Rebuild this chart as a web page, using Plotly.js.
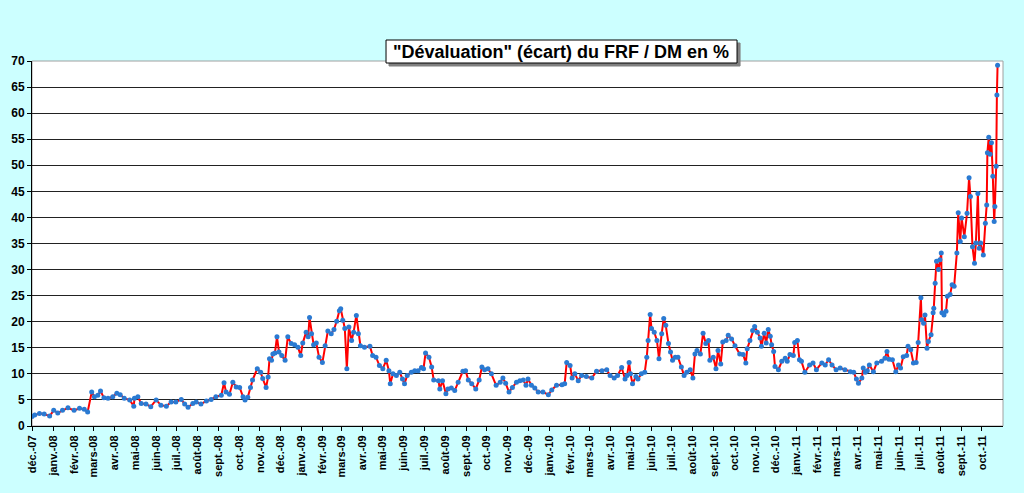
<!DOCTYPE html>
<html>
<head>
<meta charset="utf-8">
<script src="https://cdn.plot.ly/plotly-3.0.1.min.js"></script>
<style>
  html, body { margin: 0; padding: 0; background: #ccffff; }
  #graph { width: 1024px; height: 493px; }
</style>
</head>
<body>
<div id="graph"></div>
<script>
// dates des cotations
var jours = [
  '2007-12-01','2007-12-05','2007-12-12','2007-12-19','2007-12-27',
  '2008-01-02','2008-01-08','2008-01-15','2008-01-23',
  '2008-02-01','2008-02-09','2008-02-16','2008-02-21','2008-02-27',
  '2008-03-02','2008-03-07','2008-03-11','2008-03-16','2008-03-22','2008-03-29',
  '2008-04-04','2008-04-09','2008-04-15','2008-04-23','2008-04-29','2008-04-30',
  '2008-05-05','2008-05-10','2008-05-17','2008-05-24',
  '2008-06-01','2008-06-08','2008-06-16','2008-06-23','2008-06-30',
  '2008-07-08','2008-07-13','2008-07-18','2008-07-25','2008-07-30',
  '2008-08-06','2008-08-14','2008-08-21','2008-08-28',
  '2008-09-05','2008-09-09','2008-09-12','2008-09-17','2008-09-22','2008-09-27',
  '2008-10-02','2008-10-07','2008-10-10','2008-10-14','2008-10-18','2008-10-21','2008-10-28',
  '2008-11-02','2008-11-05','2008-11-10','2008-11-13','2008-11-15','2008-11-18','2008-11-20','2008-11-23','2008-11-26','2008-11-29',
  '2008-12-03','2008-12-08','2008-12-12','2008-12-17','2008-12-22','2008-12-27','2008-12-31',
  '2009-01-03','2009-01-08','2009-01-11','2009-01-13','2009-01-16','2009-01-19','2009-01-23','2009-01-27',
  '2009-02-01','2009-02-05','2009-02-09','2009-02-14','2009-02-18','2009-02-22','2009-02-26','2009-02-28',
  '2009-03-03','2009-03-06','2009-03-09','2009-03-12','2009-03-16','2009-03-19','2009-03-23','2009-03-26','2009-03-29',
  '2009-04-04','2009-04-12','2009-04-16','2009-04-21','2009-04-26',
  '2009-05-01','2009-05-06','2009-05-10','2009-05-12','2009-05-16','2009-05-21','2009-05-26','2009-05-30',
  '2009-06-02','2009-06-06','2009-06-12','2009-06-17','2009-06-22','2009-06-27','2009-06-30',
  '2009-07-03','2009-07-08','2009-07-12','2009-07-15','2009-07-22','2009-07-24','2009-07-28',
  '2009-08-02','2009-08-05','2009-08-10','2009-08-15','2009-08-20','2009-08-27','2009-08-31',
  '2009-09-04','2009-09-09','2009-09-15','2009-09-20','2009-09-24','2009-09-28',
  '2009-10-03','2009-10-08','2009-10-15','2009-10-21','2009-10-25','2009-10-29',
  '2009-11-03','2009-11-08','2009-11-14','2009-11-19','2009-11-24','2009-11-28',
  '2009-12-01','2009-12-06','2009-12-11','2009-12-16','2009-12-23','2009-12-31',
  '2010-01-05','2010-01-12','2010-01-20','2010-01-24','2010-01-27',
  '2010-02-01','2010-02-04','2010-02-08','2010-02-13','2010-02-18','2010-02-25',
  '2010-03-05','2010-03-12','2010-03-20','2010-03-27',
  '2010-04-01','2010-04-07','2010-04-12','2010-04-18','2010-04-23','2010-04-26','2010-04-29',
  '2010-05-01','2010-05-04','2010-05-09','2010-05-12','2010-05-17','2010-05-22','2010-05-25','2010-05-27','2010-05-30',
  '2010-06-01','2010-06-05','2010-06-09','2010-06-12','2010-06-16','2010-06-19','2010-06-22','2010-06-26','2010-06-29',
  '2010-07-02','2010-07-06','2010-07-10','2010-07-15','2010-07-19','2010-07-23','2010-07-28',
  '2010-08-01','2010-08-04','2010-08-07','2010-08-12','2010-08-16','2010-08-20','2010-08-24','2010-08-26','2010-08-31',
  '2010-09-04','2010-09-07','2010-09-11','2010-09-14','2010-09-19','2010-09-22','2010-09-27',
  '2010-10-02','2010-10-09','2010-10-14','2010-10-18','2010-10-20','2010-10-24','2010-10-28','2010-10-31',
  '2010-11-04','2010-11-08','2010-11-10','2010-11-14','2010-11-17','2010-11-20','2010-11-23','2010-11-25','2010-11-28','2010-11-30',
  '2010-12-05','2010-12-10','2010-12-15','2010-12-18','2010-12-22','2010-12-27','2010-12-29',
  '2011-01-02','2011-01-05','2011-01-08','2011-01-13','2011-01-20','2011-01-25','2011-01-30',
  '2011-02-07','2011-02-12','2011-02-17','2011-02-22','2011-02-28',
  '2011-03-06','2011-03-13','2011-03-21','2011-03-26','2011-03-30',
  '2011-04-02','2011-04-07','2011-04-09','2011-04-12','2011-04-15','2011-04-18','2011-04-24','2011-04-29',
  '2011-05-06','2011-05-11','2011-05-14','2011-05-17','2011-05-22','2011-05-27','2011-05-31',
  '2011-06-03','2011-06-07','2011-06-12','2011-06-14','2011-06-18','2011-06-22','2011-06-26','2011-06-29',
  '2011-07-03','2011-07-04','2011-07-07','2011-07-09','2011-07-12','2011-07-14','2011-07-18','2011-07-21','2011-07-22','2011-07-24','2011-07-26','2011-07-29','2011-07-31',
  '2011-08-02','2011-08-03','2011-08-06','2011-08-09','2011-08-11','2011-08-15','2011-08-18','2011-08-21','2011-08-25','2011-08-27','2011-08-30',
  '2011-09-01','2011-09-05','2011-09-09','2011-09-12','2011-09-14','2011-09-17','2011-09-20','2011-09-22','2011-09-25','2011-09-27','2011-09-29',
  '2011-10-03','2011-10-06','2011-10-08','2011-10-09','2011-10-11','2011-10-13','2011-10-15','2011-10-17','2011-10-19','2011-10-20','2011-10-22','2011-10-23','2011-10-24'
];

// écart FRF / DM en %
var ecart = [
  1.8, 2.1, 2.4, 2.3, 1.9,
  3.0, 2.5, 3.0, 3.5,
  3.0, 3.4, 3.2, 2.7, 6.5,
  5.6, 5.9, 6.7, 5.4, 5.3, 5.6,
  6.3, 6.0, 5.3, 5.0, 3.8, 5.3,
  5.6, 4.3, 4.2, 3.7,
  5.0, 4.0, 3.8, 4.6, 4.6,
  5.1, 4.2, 3.6, 4.3, 4.6,
  4.2, 4.8, 5.1, 5.6,
  5.9, 8.3, 6.5, 6.1, 8.4, 7.5,
  7.4, 5.6, 5.0, 5.5, 7.4, 8.8, 11.0,
  10.3, 9.1, 7.4, 9.4, 12.9, 12.6, 13.8, 14.0, 17.1, 14.2,
  13.5, 12.6, 17.1, 15.8, 15.6, 15.1, 13.5,
  15.9, 18.0, 17.1, 20.8, 17.7, 15.6, 15.9, 13.2,
  12.2, 15.4, 18.2, 17.7, 18.5, 20.1, 22.1, 22.5,
  20.3, 18.7, 11.0, 19.0, 16.4, 18.0, 21.2, 17.7, 15.4,
  15.1, 15.3, 13.5, 13.2, 11.6,
  11.0, 12.6, 10.6, 8.1, 10.0, 9.7, 10.3, 9.0,
  8.1, 9.7, 10.3, 10.6, 10.6, 11.2, 11.0,
  14.0, 13.2, 11.3, 8.8, 8.7, 7.1, 8.7,
  6.2, 7.1, 7.3, 6.8, 8.4, 10.5, 10.6,
  8.8, 8.1, 7.1, 8.8, 11.3, 10.8,
  11.0, 10.0, 7.8, 8.4, 9.2, 8.2,
  6.5, 7.4, 8.4, 8.7, 8.8, 7.8,
  9.0, 7.8, 7.3, 6.5, 6.5, 6.0,
  6.9, 7.8, 7.9, 8.1, 12.2,
  11.6, 9.2, 10.0, 8.7, 9.7, 9.5,
  9.2, 10.5, 10.6, 10.8,
  9.7, 9.2, 9.7, 11.2, 9.0, 9.7, 12.2,
  10.0, 8.1, 9.5, 9.0, 10.0, 10.3, 13.2, 16.4, 21.4,
  18.7, 18.0, 16.4, 12.9, 17.7, 20.6, 19.3, 15.8, 14.2,
  12.6, 13.2, 13.2, 11.3, 9.7, 10.3, 10.8,
  9.2, 13.8, 14.5, 13.8, 17.8, 15.8, 16.4, 12.6, 13.2,
  11.0, 14.5, 11.9, 16.1, 16.4, 17.4, 16.7,
  15.4, 13.8, 13.7, 12.1, 14.8, 16.4, 18.3, 19.1,
  18.0, 16.9, 15.3, 17.8, 15.9, 18.5, 17.2, 15.6, 14.3, 11.4,
  10.8, 12.4, 13.0, 12.4, 13.7, 13.5, 16.0,
  16.4, 12.7, 12.4, 10.3, 11.7, 12.1, 10.8,
  12.1, 11.7, 12.7, 11.7, 10.8,
  11.1, 10.8, 10.4, 10.3, 9.0,
  8.2, 9.2, 11.1, 10.3, 10.6, 11.7, 10.4, 12.1,
  12.4, 13.0, 14.3, 12.8, 12.7, 10.4, 11.7,
  11.1, 13.3, 13.5, 15.3, 14.6, 12.1, 12.2, 16.0,
  24.6, 20.4, 19.7, 21.3, 14.9, 16.2, 17.5, 21.7, 22.6, 27.4, 31.6, 30.0, 31.9,
  33.2, 21.7, 21.3, 22.0, 24.9, 25.2, 27.1, 26.8, 33.2, 40.9, 35.4,
  39.9, 36.3, 40.8, 47.6, 44.0, 34.4, 31.2, 35.1, 44.6, 34.1, 35.1,
  32.8, 38.9, 42.4, 52.4, 55.4, 52.1, 54.3, 47.9, 39.2, 42.1, 49.8, 63.5, 69.2
];

// graduations mensuelles de l'axe des dates
var moisDates = [
  '2007-12-01',
  '2008-01-01','2008-02-01','2008-03-01','2008-04-01','2008-05-01','2008-06-01',
  '2008-07-01','2008-08-01','2008-09-01','2008-10-01','2008-11-01','2008-12-01',
  '2009-01-01','2009-02-01','2009-03-01','2009-04-01','2009-05-01','2009-06-01',
  '2009-07-01','2009-08-01','2009-09-01','2009-10-01','2009-11-01','2009-12-01',
  '2010-01-01','2010-02-01','2010-03-01','2010-04-01','2010-05-01','2010-06-01',
  '2010-07-01','2010-08-01','2010-09-01','2010-10-01','2010-11-01','2010-12-01',
  '2011-01-01','2011-02-01','2011-03-01','2011-04-01','2011-05-01','2011-06-01',
  '2011-07-01','2011-08-01','2011-09-01','2011-10-01'
];
var moisLabels = [
  'déc.-07',
  'janv.-08','févr.-08','mars-08','avr.-08','mai-08','juin-08',
  'juil.-08','août-08','sept.-08','oct.-08','nov.-08','déc.-08',
  'janv.-09','févr.-09','mars-09','avr.-09','mai-09','juin-09',
  'juil.-09','août-09','sept.-09','oct.-09','nov.-09','déc.-09',
  'janv.-10','févr.-10','mars-10','avr.-10','mai-10','juin-10',
  'juil.-10','août-10','sept.-10','oct.-10','nov.-10','déc.-10',
  'janv.-11','févr.-11','mars-11','avr.-11','mai-11','juin-11',
  'juil.-11','août-11','sept.-11','oct.-11'
];

var titre = '"Dévaluation" (écart) du FRF / DM en %';

var trace = {
  x: jours,
  y: ecart,
  type: 'scatter',
  mode: 'lines+markers',
  line: { color: '#ff0000', width: 2 },
  marker: { color: '#2a7ad2', size: 5 },
  hoverinfo: 'x+y'
};

var layout = {
  width: 1024,
  height: 493,
  paper_bgcolor: '#ccffff',
  plot_bgcolor: '#ffffff',
  showlegend: false,
  margin: { l: 32, r: 21, t: 61, b: 67 },
  font: { family: 'Liberation Sans, Arial, sans-serif', color: '#000000' },
  xaxis: {
    type: 'date',
    range: ['2007-12-01', '2011-11-01'],
    tickmode: 'array',
    tickvals: moisDates,
    ticktext: moisLabels,
    tickangle: -90,
    tickfont: { size: 11, family: 'Liberation Sans, Arial, sans-serif', weight: 'bold' },
    ticks: 'outside',
    ticklen: 4,
    tickcolor: '#000000',
    showgrid: false,
    showline: true,
    linecolor: '#000000',
    linewidth: 1,
    zeroline: false
  },
  yaxis: {
    range: [0, 70],
    dtick: 5,
    tickfont: { size: 12, family: 'Liberation Sans, Arial, sans-serif', weight: 'bold' },
    ticks: 'outside',
    ticklen: 4,
    tickcolor: '#000000',
    showgrid: true,
    gridcolor: '#222222',
    gridwidth: 1,
    showline: true,
    linecolor: '#000000',
    linewidth: 1,
    zeroline: false
  },
  shapes: [
    {
      type: 'rect', xref: 'paper', yref: 'paper',
      x0: 0, x1: 1, y0: 0, y1: 1,
      line: { color: '#a0a0a0', width: 1 },
      layer: 'below'
    },
    {
      // ombre du cadre de titre
      type: 'rect', xref: 'paper', yref: 'paper',
      x0: 0.3677, x1: 0.7292, y0: 0.9863, y1: 1.0493,
      fillcolor: '#808080', line: { color: '#808080', width: 1 },
      layer: 'above'
    },
    {
      type: 'rect', xref: 'paper', yref: 'paper',
      x0: 0.3646, x1: 0.7261, y0: 0.9945, y1: 1.0575,
      fillcolor: '#ffffff', line: { color: '#000000', width: 1 },
      layer: 'above'
    }
  ],
  annotations: [
    {
      text: titre, xref: 'paper', yref: 'paper',
      x: 0.5453, y: 1.026, xanchor: 'center', yanchor: 'middle',
      showarrow: false,
      font: { size: 18, color: '#000000', weight: 'bold' }
    }
  ]
};

Plotly.newPlot('graph', [trace], layout, { displayModeBar: false, staticPlot: true });
</script>
</body>
</html>
